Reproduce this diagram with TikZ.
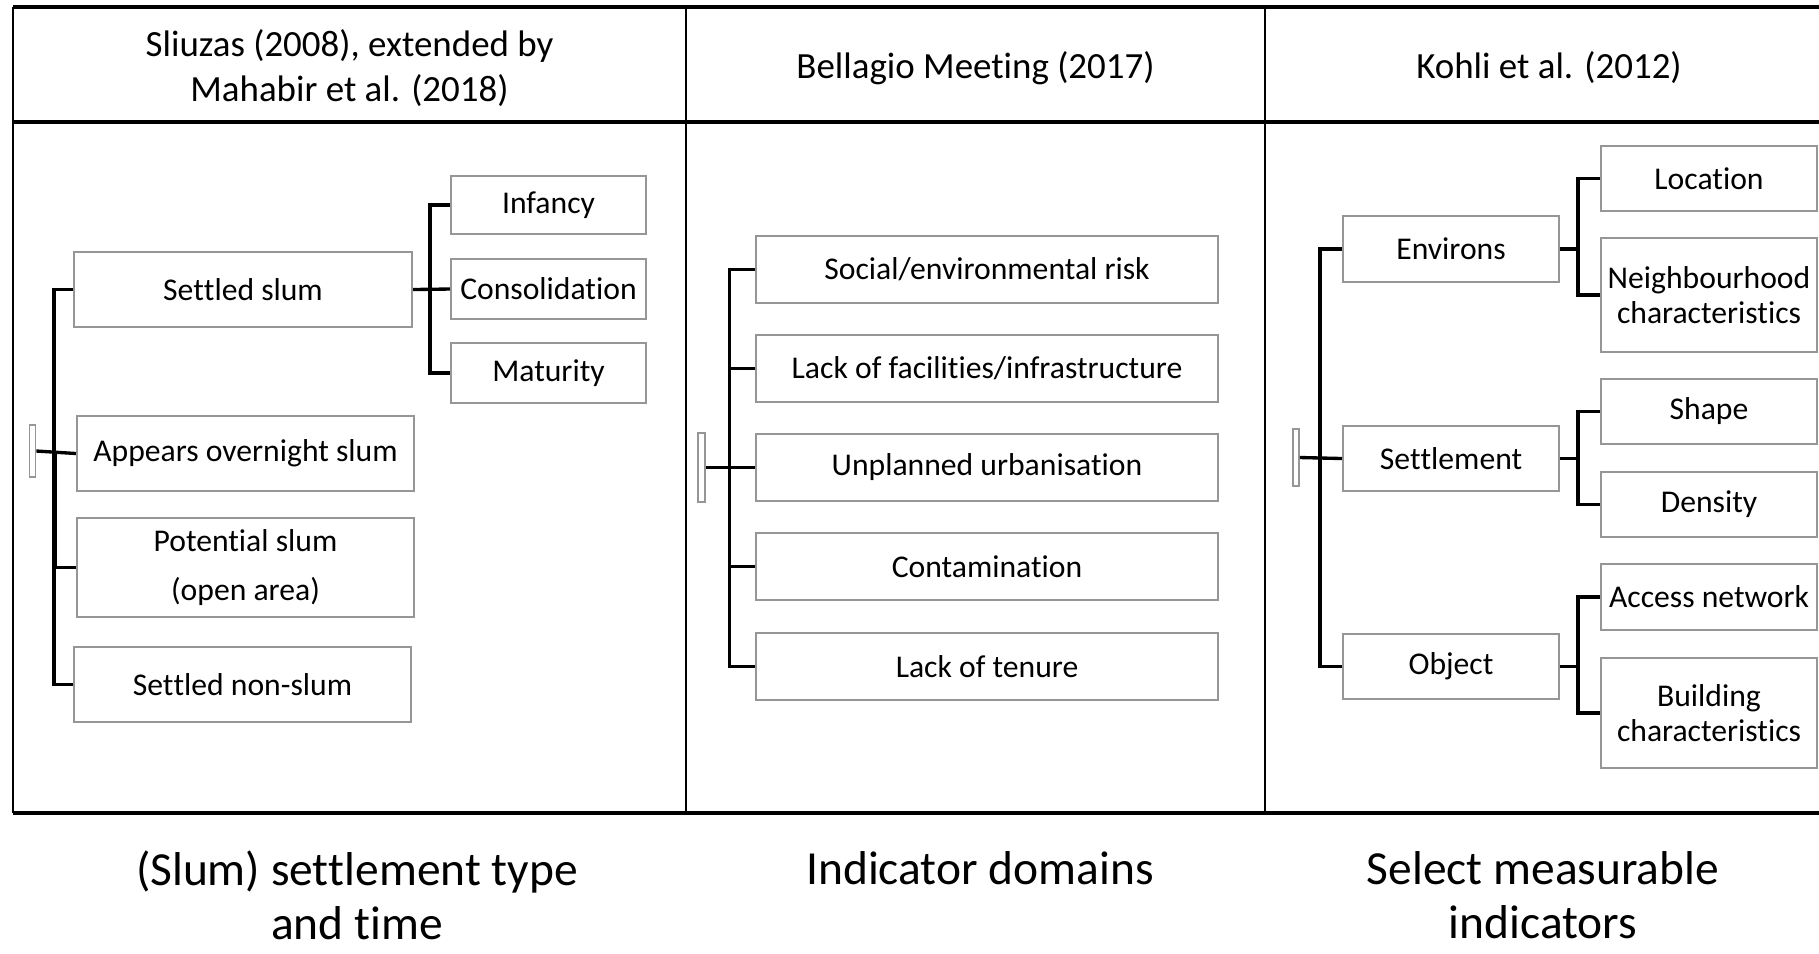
\documentclass[tikz,border=0pt]{standalone}
\usepackage{fontspec}
\setmainfont{Carlito}[Ligatures={NoCommon,NoContextual}]
\newcommand\tI{t\kern0pt i}
\newcommand\tT{t\kern0pt t}
\definecolor{boxgray}{RGB}{150,150,150}
\tikzset{
  box/.style={draw=boxgray, line width=0.55pt, inner sep=0pt, align=center,
    font=\fontsize{9}{10}\selectfont},
  rootbar/.style={draw=boxgray, line width=0.5pt, inner sep=0pt,
    minimum width=0.06cm},
  conn/.style={draw=black, line width=0.95pt},
  frameline/.style={draw=black, line width=0.95pt},
  divline/.style={draw=black, line width=0.7pt},
  head/.style={align=center, inner sep=0pt, font=\fontsize{10.5}{12.8}\selectfont},
  caption/.style={align=center, inner sep=0pt, font=\fontsize{13.5}{15.4}\selectfont}
}
\begin{document}
\begin{tikzpicture}[x=0.01cm,y=-0.01cm]
\useasboundingbox (0,0) rectangle (1819,953);
% frame
\draw[frameline] (13,7) -- (1819,7);
\draw[frameline] (13,122) -- (1819,122);
\draw[frameline] (13,813) -- (1819,813);
\draw[divline] (13,7) -- (13,813);
\draw[divline] (686,7) -- (686,813);
\draw[divline] (1265,7) -- (1265,813);
% headers
\node[head] (h1) at (349.5,68) {Sliuzas (2008), extended by\\Mahabir et al. (2018)};
\node[head] (h2) at (975.5,68) {Bellagio Meeting (2017)};
\node[head] (h3) at (1549,68) {Kohli et al. (2012)};
% column 1
\node[box, minimum width=3.38cm, minimum height=0.75cm] (ss) at (243,289.5) {Se\tT led slum};
\node[box, minimum width=1.95cm, minimum height=0.58cm] (inf) at (548.5,205) {Infancy};
\node[box, minimum width=1.95cm, minimum height=0.60cm] (con) at (548.5,289) {Consolida\tI on};
\node[box, minimum width=1.95cm, minimum height=0.60cm] (mat) at (548.5,373) {Maturity};
\node[box, minimum width=3.37cm, minimum height=0.75cm] (aos) at (245.5,453.5) {Appears overnight slum};
\node[box, minimum width=3.37cm, minimum height=0.99cm, font=\fontsize{9}{13.7}\selectfont] (pot) at (245.5,567.5) {Poten\tI al slum\\(open area)};
\node[box, minimum width=3.37cm, minimum height=0.75cm] (snn) at (242.5,684.5) {Se\tT led non-slum};
\node[rootbar, minimum height=0.52cm] (r1) at (32.5,451) {};
\draw[conn] (ss.west) -- ++(-19,0) |- (snn.west);
\draw[conn] (pot.west) -- ++(-22,0);
\draw[conn, line width=1.3pt] (55,453) -- (55,568);
\draw[conn] (r1.east) -- (aos.west);
\draw[conn] (ss.east) -- (con.west);
\draw[conn] (inf.west) -- ++(-20,0) |- (mat.west);
% column 2
\node[box, minimum width=4.61cm, minimum height=0.67cm] (d1) at (987,269.5) {Social/environmental risk};
\node[box, minimum width=4.61cm, minimum height=0.67cm] (d2) at (987,368.5) {Lack of facili\tI es/infrastructure};
\node[box, minimum width=4.61cm, minimum height=0.67cm] (d3) at (987,467.5) {Unplanned urbanisa\tI on};
\node[box, minimum width=4.61cm, minimum height=0.67cm] (d4) at (987,566.5) {Contamina\tI on};
\node[box, minimum width=4.61cm, minimum height=0.67cm] (d5) at (987,666.5) {Lack of tenure};
\node[rootbar, minimum width=0.07cm, minimum height=0.69cm] (r2) at (701.5,467.5) {};
\draw[conn] (d1.west) -- ++(-26,0) |- (d5.west);
\draw[conn] (d2.west) -- ++(-26,0);
\draw[conn] (d4.west) -- ++(-26,0);
\draw[conn] (r2.east) -- (d3.west);
% column 3
\node[box, minimum width=2.16cm, minimum height=0.66cm] (env) at (1451,249) {Environs};
\node[box, minimum width=2.16cm, minimum height=0.65cm] (set) at (1451,458.5) {Se\tT lement};
\node[box, minimum width=2.16cm, minimum height=0.65cm] (obj) at (1451,666.5) {Object};
\node[box, minimum width=2.16cm, minimum height=0.65cm] (loc) at (1709,178.5) {Loca\tI on};
\node[box, minimum width=2.16cm, minimum height=1.14cm] (nei) at (1709,295) {Neighbourhood\\characteris\tI cs};
\node[box, minimum width=2.16cm, minimum height=0.65cm] (sha) at (1709,411.5) {Shape};
\node[box, minimum width=2.16cm, minimum height=0.65cm] (den) at (1709,504.5) {Density};
\node[box, minimum width=2.16cm, minimum height=0.66cm] (acc) at (1709,597) {Access network};
\node[box, minimum width=2.16cm, minimum height=1.10cm] (bui) at (1709,713) {Building\\characteris\tI cs};
\node[rootbar, minimum height=0.57cm] (r3) at (1296,457.5) {};
\draw[conn] (env.west) -- ++(-22,0) |- (obj.west);
\draw[conn] (r3.east) -- (set.west);
\draw[conn] (env.east) -- ++(20,0);
\draw[conn] (loc.west) -- ++(-22,0) |- (nei.west);
\draw[conn] (set.east) -- ++(20,0);
\draw[conn] (sha.west) -- ++(-22,0) |- (den.west);
\draw[conn] (obj.east) -- ++(20,0);
\draw[conn] (acc.west) -- ++(-22,0) |- (bui.west);
% captions
\node[caption] (c1) at (357,895) {(Slum) se\tT lement type\\and \tI me};
\node[caption] (c2) at (980,868) {Indicator domains};
\node[caption] (c3) at (1543,895) {Select measurable\\indicators};
\end{tikzpicture}
\end{document}
